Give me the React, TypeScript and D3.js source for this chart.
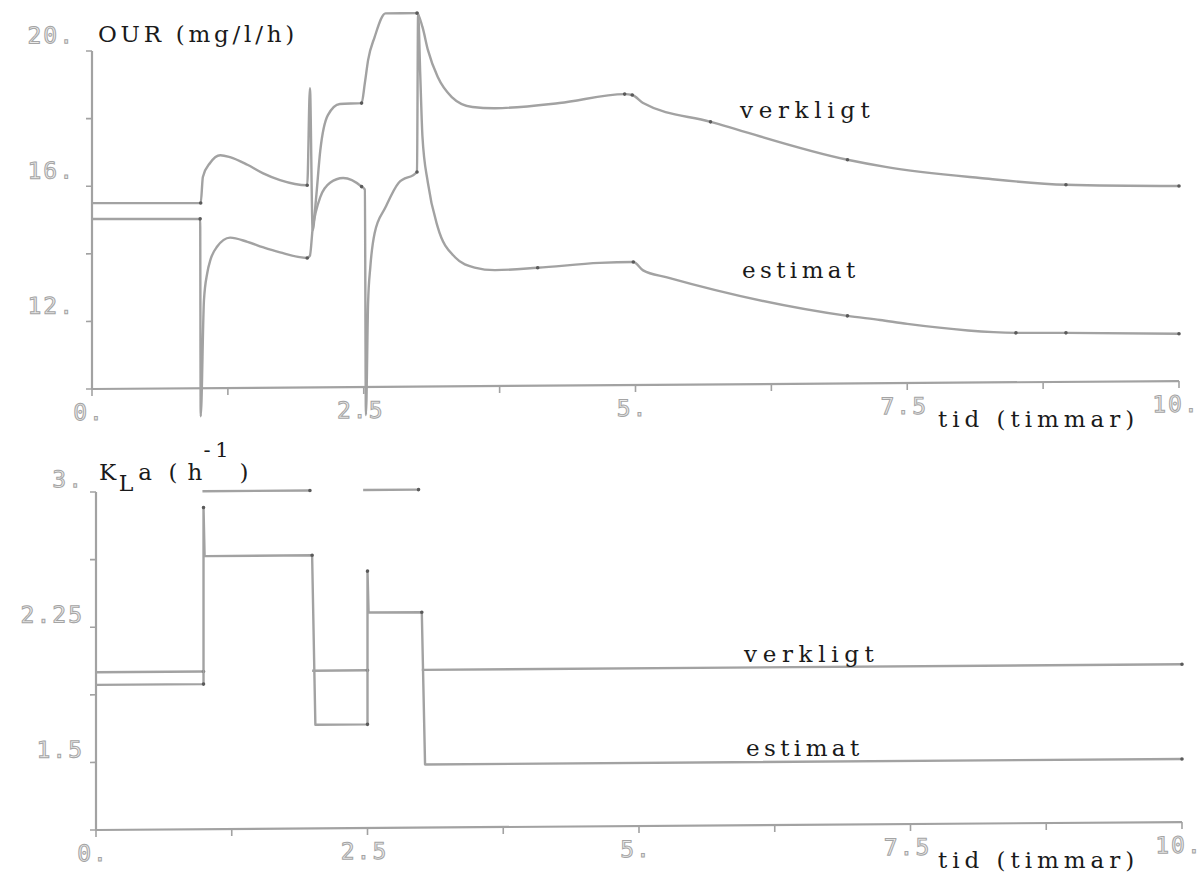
import React from 'react';
import * as d3 from 'd3';

// ---------- axis ticks & labels ----------
const X_TICKS = [0, 1.25, 2.5, 3.75, 5, 6.25, 7.5, 8.75, 10];
const X_LABEL_VALUES = [0, 2.5, 5, 7.5, 10];
const X_LABELS = ['0.', '2.5', '5.', '7.5', '10.'];

const OUR_TICKS = [10, 12, 14, 16, 18, 20];
const OUR_LABEL_VALUES = [20, 16, 12];
const OUR_LABELS = ['20.', '16.', '12.'];

const KLA_TICKS = [1.125, 1.5, 1.875, 2.25, 2.625, 3];
const KLA_LABEL_VALUES = [3, 2.25, 1.5];
const KLA_LABELS = ['3.', '2.25', '1.5'];

// ---------- OUR (mg/l/h), top panel ----------
const OUR_T_VERKLIGT = [0, 1.0, 1.02, 1.086, 1.18, 1.27, 1.43, 1.57, 1.73, 1.98, 2.005, 2.03, 2.06, 2.1, 2.17, 2.28, 2.48, 2.51, 2.54, 2.6, 2.7, 2.99, 3.04, 3.09, 3.18, 3.31, 3.5, 3.71, 4.3, 4.9, 4.97, 5.07, 5.69, 6.95, 7.3, 8.17, 8.96, 10.0];
const OUR_VERKLIGT = [15.5, 15.48, 16.25, 16.66, 16.89, 16.83, 16.6, 16.35, 16.14, 15.98, 18.85, 14.65, 15.55, 17.0, 18.05, 18.38, 18.4, 18.99, 19.67, 20.35, 21.05, 21.05, 20.64, 19.96, 19.16, 18.56, 18.26, 18.22, 18.36, 18.61, 18.58, 18.34, 17.77, 16.62, 16.4, 16.05, 15.83, 15.77];
const OUR_VERKLIGT_MARKS = [1.0, 1.98, 2.48, 2.99, 4.9, 4.97, 5.69, 6.95, 8.96, 10.0];

const OUR_T_ESTIMAT = [0, 0.995, 1.0, 1.03, 1.06, 1.09, 1.15, 1.27, 1.43, 1.57, 1.73, 1.98, 2.005, 2.03, 2.06, 2.1, 2.19, 2.31, 2.48, 2.51, 2.52, 2.54, 2.56, 2.6, 2.7, 2.82, 2.99, 3.0, 3.02, 3.04, 3.09, 3.18, 3.34, 3.52, 3.71, 4.1, 4.67, 4.98, 5.07, 5.29, 6.95, 7.25, 7.5, 8.5, 8.96, 10.0];
const OUR_ESTIMAT = [15.03, 15.01, 9.17, 12.6, 13.4, 13.8, 14.18, 14.45, 14.32, 14.16, 14.0, 13.83, 13.9, 14.7, 15.2, 15.63, 16.05, 16.19, 15.93, 15.84, 9.17, 12.5, 13.53, 14.55, 15.31, 16.03, 16.35, 21.05, 19.2, 17.4, 16.03, 14.72, 13.82, 13.51, 13.43, 13.49, 13.62, 13.64, 13.39, 13.18, 12.0, 11.87, 11.75, 11.46, 11.45, 11.4];
const OUR_ESTIMAT_MARKS = [0.995, 1.98, 2.48, 2.99, 4.1, 4.98, 6.95, 8.5, 8.96, 10.0];

// ---------- KLa (1/h), bottom panel ----------
const KLA_T_ESTIMAT = [0, 0.99, 0.99, 1.0, 1.02, 1.99, 2.02, 2.5, 2.5, 2.51, 2.52, 3.0, 3.03, 10];
const KLA_ESTIMAT = [1.93, 1.93, 2.91, 2.64, 2.64, 2.64, 1.7, 1.7, 2.55, 2.32, 2.32, 2.32, 1.475, 1.475];
const KLA_ESTIMAT_MARKS = [0.99, 1.99, 2.5, 3.0, 5.0, 7.0, 10];

const KLA_VERKLIGT_START = [0, 0.98, 1.99, 2.46, 3.0];
const KLA_VERKLIGT_END = [0.99, 1.97, 2.5, 2.97, 10];
const KLA_VERKLIGT = [2.0, 3.0, 2.0, 3.0, 2.0];

// ---------- styles ----------
const LINE = '#a2a2a2';
const TYPE_FONT = '"DejaVu Serif", "Liberation Serif", serif';
const PLOT_FONT = '"DejaVu Sans Mono", monospace';
const TILT = -0.42;
const PITCH = 16.6;

type Panel = { x0: number; x1: number; yb: number; yt: number };
const TOPP: Panel = { x0: 92, x1: 1179, yb: 389, yt: 51 };
const BOTP: Panel = { x0: 96, x1: 1182, yb: 830, yt: 492 };

// typewriter-like text: stretched (spacing only) to a fixed pitch per character
function Typed({ x, y, text, size = 23 }: { x: number; y: number; text: string; size?: number }) {
  return (
    <text x={x} y={y} fontFamily={TYPE_FONT} fontSize={size} fill="#1a1a1a"
      textLength={text.length * PITCH - 3} lengthAdjust="spacing">
      {text}
    </text>
  );
}

function TickLabel({ x, y, text, anchor }: { x: number; y: number; text: string; anchor: string }) {
  return (
    <text x={x} y={y} textAnchor={anchor} fontFamily={PLOT_FONT} fontSize={23}
      letterSpacing={2} fill="#ededed" stroke="#a4a4a4" strokeWidth={1}>
      {text}
    </text>
  );
}

function Axes({ p, yTicks, yDomain, yLabelValues, yLabels, yLabDx, yLabDy }: any) {
  const x = d3.scaleLinear().domain([0, 10]).range([p.x0, p.x1]);
  const y = d3.scaleLinear().domain(yDomain).range([p.yb, p.yt]);
  return (
    <g>
      <line x1={p.x0} x2={p.x1} y1={p.yb} y2={p.yb} stroke={LINE} strokeWidth={2.2} />
      <line x1={p.x0} x2={p.x0} y1={p.yb} y2={p.yt} stroke={LINE} strokeWidth={2.2} />
      {X_TICKS.map((t) => (
        <line key={'xt' + t} x1={x(t)} x2={x(t)} y1={p.yb} y2={p.yb + 7} stroke={LINE} strokeWidth={1.6} />
      ))}
      {yTicks.map((v: number) => (
        <line key={'yt' + v} x1={p.x0 - 6} x2={p.x0} y1={y(v)} y2={y(v)} stroke={LINE} strokeWidth={1.6} />
      ))}
      {X_LABEL_VALUES.map((v, i) => (
        <TickLabel key={'xl' + v} x={x(v) - 3} y={p.yb + 31} text={X_LABELS[i]} anchor="middle" />
      ))}
      {yLabelValues.map((v: number, i: number) => (
        <TickLabel key={'yl' + v} x={p.x0 + yLabDx} y={y(v) + yLabDy} text={yLabels[i]} anchor="end" />
      ))}
    </g>
  );
}

function Marks({ xs, ys, ts, marks, sx, sy }: any) {
  return (
    <g>
      {ts.map((t: number, i: number) =>
        marks.includes(t) ? (
          <circle key={i} cx={sx(xs[i])} cy={sy(ys[i])} r={1.8} fill="#5a5a5a" />
        ) : null
      )}
    </g>
  );
}

export default function App() {
  // top panel scales
  const xT = d3.scaleLinear().domain([0, 10]).range([TOPP.x0, TOPP.x1]);
  const yT = d3.scaleLinear().domain([10, 20]).range([TOPP.yb, TOPP.yt]);
  const lineT = d3.line<[number, number]>().x((d) => xT(d[0])).y((d) => yT(d[1])).curve(d3.curveMonotoneX);
  const verkligtTop = OUR_T_VERKLIGT.map((t, i) => [t, OUR_VERKLIGT[i]] as [number, number]);
  const estimatTop = OUR_T_ESTIMAT.map((t, i) => [t, OUR_ESTIMAT[i]] as [number, number]);

  // bottom panel scales
  const xB = d3.scaleLinear().domain([0, 10]).range([BOTP.x0, BOTP.x1]);
  const yB = d3.scaleLinear().domain([1.125, 3]).range([BOTP.yb, BOTP.yt]);
  const lineB = d3.line<[number, number]>().x((d) => xB(d[0])).y((d) => yB(d[1]));
  const estimatBot = KLA_T_ESTIMAT.map((t, i) => [t, KLA_ESTIMAT[i]] as [number, number]);

  const skew = (p: Panel) => `translate(${p.x0},${p.yb}) skewY(${TILT}) translate(${-p.x0},${-p.yb})`;

  return (
    <svg width={1203} height={875} style={{ position: 'absolute', left: 0, top: 0, background: '#fff' }}>
      {/* ---------- top panel ---------- */}
      <g transform={skew(TOPP)}>
        <Axes p={TOPP} yTicks={OUR_TICKS} yDomain={[10, 20]} yLabelValues={OUR_LABEL_VALUES}
          yLabels={OUR_LABELS} yLabDx={-17} yLabDy={-8} />
        <path d={lineT(verkligtTop) || ''} fill="none" stroke={LINE} strokeWidth={2.4} strokeLinejoin="round" />
        <path d={lineT(estimatTop) || ''} fill="none" stroke={LINE} strokeWidth={2.4} strokeLinejoin="round" />
        <Marks xs={OUR_T_VERKLIGT} ys={OUR_VERKLIGT} ts={OUR_T_VERKLIGT} marks={OUR_VERKLIGT_MARKS} sx={xT} sy={yT} />
        <Marks xs={OUR_T_ESTIMAT} ys={OUR_ESTIMAT} ts={OUR_T_ESTIMAT} marks={OUR_ESTIMAT_MARKS} sx={xT} sy={yT} />
      </g>
      <Typed x={98} y={42} text="OUR (mg/l/h)" />
      <Typed x={740} y={118} text="verkligt" />
      <Typed x={742} y={278} text="estimat" />
      <Typed x={938} y={427} text="tid (timmar)" />

      {/* ---------- bottom panel ---------- */}
      <g transform={skew(BOTP)}>
        <Axes p={BOTP} yTicks={KLA_TICKS} yDomain={[1.125, 3]} yLabelValues={KLA_LABEL_VALUES}
          yLabels={KLA_LABELS} yLabDx={-12} yLabDy={-5} />
        {KLA_VERKLIGT.map((v, i) => (
          <line key={'kv' + i} x1={xB(KLA_VERKLIGT_START[i])} x2={xB(KLA_VERKLIGT_END[i])} y1={yB(v)} y2={yB(v)}
            stroke={LINE} strokeWidth={2.4} />
        ))}
        {KLA_VERKLIGT.map((v, i) => (
          <circle key={'kvm' + i} cx={xB(KLA_VERKLIGT_END[i])} cy={yB(v)} r={1.8} fill="#5a5a5a" />
        ))}
        <path d={lineB(estimatBot) || ''} fill="none" stroke={LINE} strokeWidth={2.4} strokeLinejoin="round" />
        <Marks xs={KLA_T_ESTIMAT} ys={KLA_ESTIMAT} ts={KLA_T_ESTIMAT} marks={KLA_ESTIMAT_MARKS} sx={xB} sy={yB} />
      </g>
      <text fontFamily={TYPE_FONT} fill="#1a1a1a" textAnchor="middle" fontSize={23}>
        <tspan x={107.5} y={480}>K</tspan>
        <tspan x={126} y={491} fontSize={22}>L</tspan>
        <tspan x={145} y={480}>a</tspan>
        <tspan x={173} y={480}>(</tspan>
        <tspan x={195} y={480}>h</tspan>
        <tspan x={207} y={457} fontSize={21}>-</tspan>
        <tspan x={222} y={457} fontSize={21}>1</tspan>
        <tspan x={244} y={480}>)</tspan>
      </text>
      <Typed x={744} y={662} text="verkligt" />
      <Typed x={746} y={756} text="estimat" />
      <Typed x={938} y={868} text="tid (timmar)" />
    </svg>
  );
}
